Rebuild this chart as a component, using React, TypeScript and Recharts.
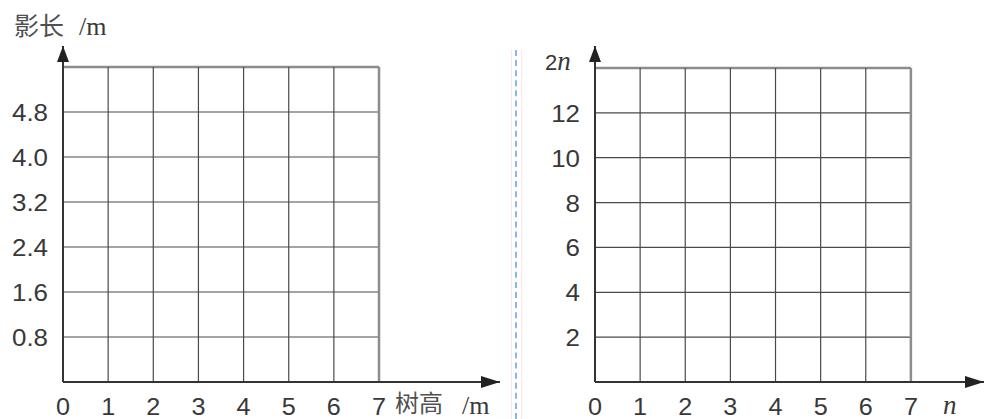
import React from 'react';
import { ComposedChart, XAxis, YAxis, ReferenceLine, ReferenceDot, Label } from 'recharts';

// ---- data ----
const xTicks = [0, 1, 2, 3, 4, 5, 6, 7];
const gridX = [1, 2, 3, 4, 5, 6, 7];
const leftYTicks = [0.8, 1.6, 2.4, 3.2, 4.0, 4.8];
const leftYLabels = ['0.8', '1.6', '2.4', '3.2', '4.0', '4.8'];
const leftGridY = [0.8, 1.6, 2.4, 3.2, 4.0, 4.8, 5.6];
const rightYTicks = [2, 4, 6, 8, 10, 12];
const rightYLabels = ['2', '4', '6', '8', '10', '12'];
const rightGridY = [2, 4, 6, 8, 10, 12, 14];
const leftXTitle = '树高';
const leftYTitle = '影长';
const unit = '/m';

// ---- layout constants ----
const L = { xMax: 9.68, yMax: 5.973, gridXMax: 7, gridYMax: 5.6 };
const R = { xMax: 8.62, yMax: 14.98, gridXMax: 7, gridYMax: 14 };

const TXT = '#383838';
const GRID = '#4a4a4a';
const BORDER = '#8c8c8c';
const FONT = '"Liberation Sans", Arial, sans-serif';
const SERIF = '"Liberation Serif", "Times New Roman", serif';
const CJK = '"Noto Sans CJK SC", sans-serif';

const makeXTick = () => (props: any) => {
  const { x, y, payload } = props;
  return (
    <text
      x={0}
      y={0}
      transform={`translate(${x},${y + 33}) scale(1.05,1)`}
      textAnchor="middle"
      fontFamily={FONT}
      fontSize={24}
      fill={TXT}
    >
      {payload.value}
    </text>
  );
};

const makeYTick = (ticks: number[], labels: string[]) => (props: any) => {
  const { x, y, payload } = props;
  const i = ticks.indexOf(payload.value);
  return (
    <text
      x={0}
      y={0}
      transform={`translate(${x},${y + 9}) scale(1.08,1)`}
      textAnchor="end"
      fontFamily={FONT}
      fontSize={24}
      fill={TXT}
    >
      {i >= 0 ? labels[i] : payload.value}
    </text>
  );
};

const rightArrow = (p: any) => (
  <polygon points={`${p.cx},${p.cy} ${p.cx - 19},${p.cy - 6} ${p.cx - 19},${p.cy + 6}`} fill="#222" />
);
const upArrow = (p: any) => (
  <polygon points={`${p.cx},${p.cy} ${p.cx - 6},${p.cy + 16} ${p.cx + 6},${p.cy + 16}`} fill="#222" />
);

function Grid(cfg: { gridXMax: number; gridYMax: number }, gridY: number[]) {
  const out: any[] = [];
  gridY.forEach((v) => {
    const isTop = v === cfg.gridYMax;
    out.push(
      <ReferenceLine
        key={'h' + v}
        segment={[{ x: 0, y: v }, { x: cfg.gridXMax, y: v }]}
        stroke={isTop ? BORDER : GRID}
        strokeWidth={isTop ? 2.5 : 1.2}
      />
    );
  });
  gridX.forEach((v) => {
    const isEdge = v === cfg.gridXMax;
    out.push(
      <ReferenceLine
        key={'v' + v}
        segment={[{ x: v, y: 0 }, { x: v, y: cfg.gridYMax }]}
        stroke={isEdge ? BORDER : GRID}
        strokeWidth={isEdge ? 2.5 : 1.2}
      />
    );
  });
  return out;
}

const data = xTicks.map((x) => ({ x }));

export default function App() {
  return (
    <div style={{ position: 'absolute', left: 0, top: 0, width: 986, height: 419, background: '#fff' }}>
      {/* Left chart */}
      <div style={{ position: 'absolute', left: 0, top: 0 }}>
        <ComposedChart width={516} height={419} data={data} margin={{ top: 46, right: 16, bottom: 0, left: 0 }}>
          <XAxis
            dataKey="x"
            type="number"
            domain={[0, L.xMax]}
            ticks={xTicks}
            interval={0}
            allowDataOverflow
            height={37}
            tickLine={false}
            tickSize={0}
            tickMargin={0}
            axisLine={{ stroke: '#333', strokeWidth: 2 }}
            tick={makeXTick()}
          >
            <Label
              content={(p: any) => {
                const vb = p.viewBox;
                return (
                  <g>
                    <text x={395} y={vb.y + 30} fontFamily={CJK} fontSize={24} fill="#505050">{leftXTitle}</text>
                    <text x={462} y={vb.y + 32} fontFamily={SERIF} fontSize={26} fill={TXT}>{unit}</text>
                  </g>
                );
              }}
            />
          </XAxis>
          <YAxis
            type="number"
            domain={[0, L.yMax]}
            ticks={leftYTicks}
            interval={0}
            allowDataOverflow
            width={63}
            tickLine={false}
            tickSize={0}
            tickMargin={15}
            axisLine={{ stroke: '#333', strokeWidth: 2 }}
            tick={makeYTick(leftYTicks, leftYLabels)}
          >
            <Label
              content={(p: any) => {
                const vb = p.viewBox;
                return (
                  <g>
                    <text x={14} y={vb.y - 11} fontFamily={CJK} fontSize={25} fill="#505050">{leftYTitle}</text>
                    <text x={79} y={vb.y - 11} fontFamily={SERIF} fontSize={26} fill={TXT}>{unit}</text>
                  </g>
                );
              }}
            />
          </YAxis>
          {Grid(L, leftGridY)}
          <ReferenceDot x={L.xMax} y={0} ifOverflow="visible" shape={rightArrow} />
          <ReferenceDot x={0} y={L.yMax} ifOverflow="visible" shape={upArrow} />
        </ComposedChart>
      </div>

      {/* Divider */}
      <div style={{ position: 'absolute', left: 511, top: 50, width: 1, height: 369, background: 'rgba(255,170,190,0.3)' }} />
      <div style={{ position: 'absolute', left: 521, top: 50, width: 1, height: 369, background: 'rgba(255,170,190,0.3)' }} />
      <div style={{ position: 'absolute', left: 515, top: 50, height: 369, borderLeft: '2px dashed #8ab8e6' }} />

      {/* Right chart */}
      <div style={{ position: 'absolute', left: 516, top: 0 }}>
        <ComposedChart width={470} height={419} data={data} margin={{ top: 46, right: 2, bottom: 0, left: 0 }}>
          <XAxis
            dataKey="x"
            type="number"
            domain={[0, R.xMax]}
            ticks={xTicks}
            interval={0}
            allowDataOverflow
            height={37}
            tickLine={false}
            tickSize={0}
            tickMargin={0}
            axisLine={{ stroke: '#333', strokeWidth: 2 }}
            tick={makeXTick()}
          >
            <Label
              content={(p: any) => {
                const vb = p.viewBox;
                return (
                  <text x={427} y={vb.y + 32} fill={TXT} fontFamily={SERIF} fontStyle="italic" fontSize={27}>
                    n
                  </text>
                );
              }}
            />
          </XAxis>
          <YAxis
            type="number"
            domain={[0, R.yMax]}
            ticks={rightYTicks}
            interval={0}
            allowDataOverflow
            width={79}
            tickLine={false}
            tickSize={0}
            tickMargin={15}
            axisLine={{ stroke: '#333', strokeWidth: 2 }}
            tick={makeYTick(rightYTicks, rightYLabels)}
          >
            <Label
              content={(p: any) => {
                const vb = p.viewBox;
                return (
                  <text x={29} y={vb.y + 24} fill={TXT}>
                    <tspan fontFamily={FONT} fontSize={22}>2</tspan>
                    <tspan fontFamily={SERIF} fontStyle="italic" fontSize={27}>n</tspan>
                  </text>
                );
              }}
            />
          </YAxis>
          {Grid(R, rightGridY)}
          <ReferenceDot x={R.xMax} y={0} ifOverflow="visible" shape={rightArrow} />
          <ReferenceDot x={0} y={R.yMax} ifOverflow="visible" shape={upArrow} />
        </ComposedChart>
      </div>
    </div>
  );
}
